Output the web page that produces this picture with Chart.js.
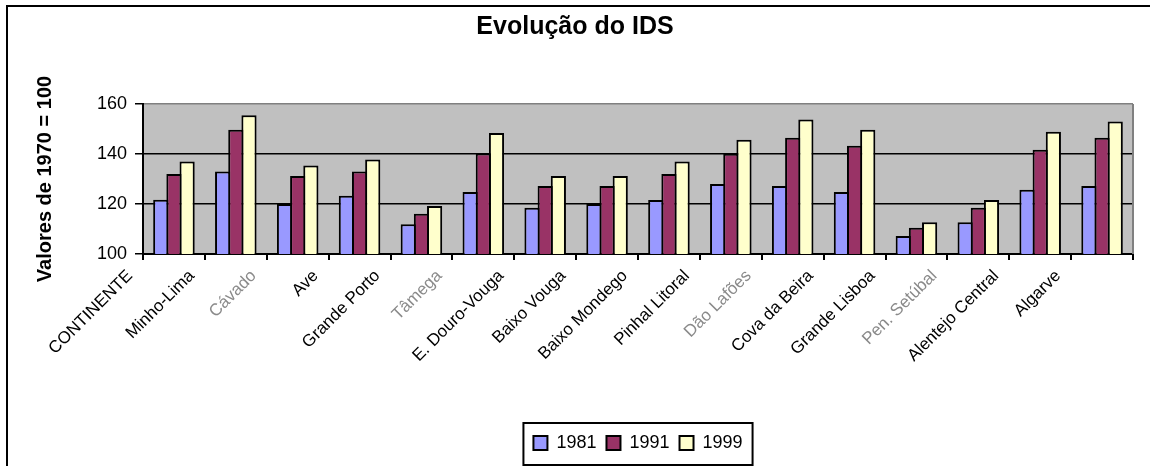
<!DOCTYPE html>
<html>
<head>
<meta charset="utf-8">
<script src="https://cdn.jsdelivr.net/npm/chart.js@4/dist/chart.umd.min.js"></script>
<style>
  body { margin: 0; background: #fff; }
  canvas { display: block; }
</style>
</head>
<body>
<canvas id="ids-chart" width="1150" height="466"></canvas>
<script>
var regions = ["CONTINENTE", "Minho-Lima", "Cávado", "Ave", "Grande Porto", "Tâmega",
  "E. Douro-Vouga", "Baixo Vouga", "Baixo Mondego", "Pinhal Litoral", "Dão Lafões",
  "Cova da Beira", "Grande Lisboa", "Pen. Setúbal", "Alentejo Central", "Algarve"];
var ids1981 = [121.7, 133.0, 120.0, 123.3, 111.9, 124.8, 118.5, 120.0, 121.6, 128.0, 127.2, 124.8, 107.2, 112.7, 125.7, 127.2];
var ids1991 = [132.0, 149.7, 131.2, 133.0, 116.1, 140.2, 127.2, 127.2, 132.0, 140.1, 146.5, 143.3, 110.5, 118.5, 141.7, 146.5];
var ids1999 = [137.0, 155.5, 135.4, 137.8, 119.2, 148.4, 131.2, 131.2, 137.0, 145.7, 153.8, 149.7, 112.7, 121.6, 148.9, 153.0];
var yTicks = [100, 120, 140, 160];

// labels that came out washed-out in the original export
var fadedLabels = [2, 5, 10, 13];
var font = "'Liberation Sans', Arial, sans-serif";

// grey plot background, plot frame, outer frame and legend box
var decor = {
  id: 'decor',
  beforeDraw: function(chart) {
    var c = chart.ctx, a = chart.chartArea;
    c.save();
    c.fillStyle = '#fff';
    c.fillRect(0, 0, chart.width, chart.height);
    c.fillStyle = '#C0C0C0';
    c.fillRect(a.left, a.top, a.right - a.left, a.bottom - a.top);
    c.restore();
  },
  afterDraw: function(chart) {
    var c = chart.ctx, a = chart.chartArea;
    c.save();
    c.strokeStyle = '#808080';
    c.lineWidth = 2;
    c.beginPath();
    c.moveTo(a.right, a.top);
    c.lineTo(a.right, a.bottom);
    c.stroke();

    c.strokeStyle = '#000';
    c.beginPath();
    c.moveTo(7, chart.height);
    c.lineTo(7, 6);
    c.lineTo(chart.width, 6);
    c.stroke();

    var hb = chart.legend.legendHitBoxes;
    if (hb && hb.length) {
      var l = hb[0].left, r = hb[hb.length - 1].left + hb[hb.length - 1].width;
      var cy = hb[0].top + hb[0].height / 2;
      c.strokeRect(l - 10, cy - 20, (r + 10) - (l - 10), 42);
    }
    c.restore();
  }
};

new Chart(document.getElementById('ids-chart'), {
  type: 'bar',
  data: {
    labels: regions,
    datasets: [
      { label: '1981', data: ids1981, backgroundColor: '#9999FF' },
      { label: '1991', data: ids1991, backgroundColor: '#993366' },
      { label: '1999', data: ids1999, backgroundColor: '#FFFFCC' }
    ]
  },
  options: {
    responsive: false,
    animation: false,
    layout: { padding: { left: 17, right: 17, top: 0, bottom: 4 } },
    datasets: {
      bar: {
        borderColor: '#000',
        borderWidth: 2,
        borderSkipped: 'start',
        inflateAmount: 0,
        categoryPercentage: 0.639,
        barPercentage: 1.152
      }
    },
    plugins: {
      title: {
        display: true,
        text: 'Evolução do IDS',
        color: '#000',
        font: { family: font, size: 25, weight: 'bold' },
        padding: { top: 12.6, bottom: 61.4 }
      },
      legend: {
        position: 'bottom',
        fullSize: false,
        labels: {
          color: '#000',
          font: { family: font, size: 18 },
          boxWidth: 14,
          boxHeight: 14,
          padding: 10
        }
      },
      tooltip: { enabled: false }
    },
    scales: {
      x: {
        grid: { drawOnChartArea: false, offset: true, tickLength: 6, color: '#000', lineWidth: 2 },
        border: { color: '#000', width: 2 },
        ticks: {
          autoSkip: false,
          minRotation: 45,
          maxRotation: 45,
          labelOffset: -44,
          padding: 6,
          font: { family: font, size: 17 },
          color: function(ctx) { return fadedLabels.indexOf(ctx.index) >= 0 ? '#8a8a8a' : '#000'; }
        },
        afterFit: function(scale) { scale.height = 170; }
      },
      y: {
        min: yTicks[0],
        max: yTicks[yTicks.length - 1],
        afterBuildTicks: function(scale) { scale.ticks = yTicks.map(function(v) { return { value: v }; }); },
        grid: {
          color: function(ctx) { return ctx.tick && ctx.tick.value === 160 ? '#808080' : '#000'; },
          tickColor: '#000',
          lineWidth: 1.5,
          tickLength: 8
        },
        border: { color: '#000', width: 2 },
        ticks: { padding: 8, color: '#000', font: { family: font, size: 18 } },
        title: {
          display: true,
          text: 'Valores de 1970 = 100',
          color: '#000',
          font: { family: font, size: 20, weight: 'bold' },
          padding: { top: 16, bottom: 0 }
        },
        afterFit: function(scale) { scale.width = 126; }
      }
    }
  },
  plugins: [decor]
});
</script>
</body>
</html>
